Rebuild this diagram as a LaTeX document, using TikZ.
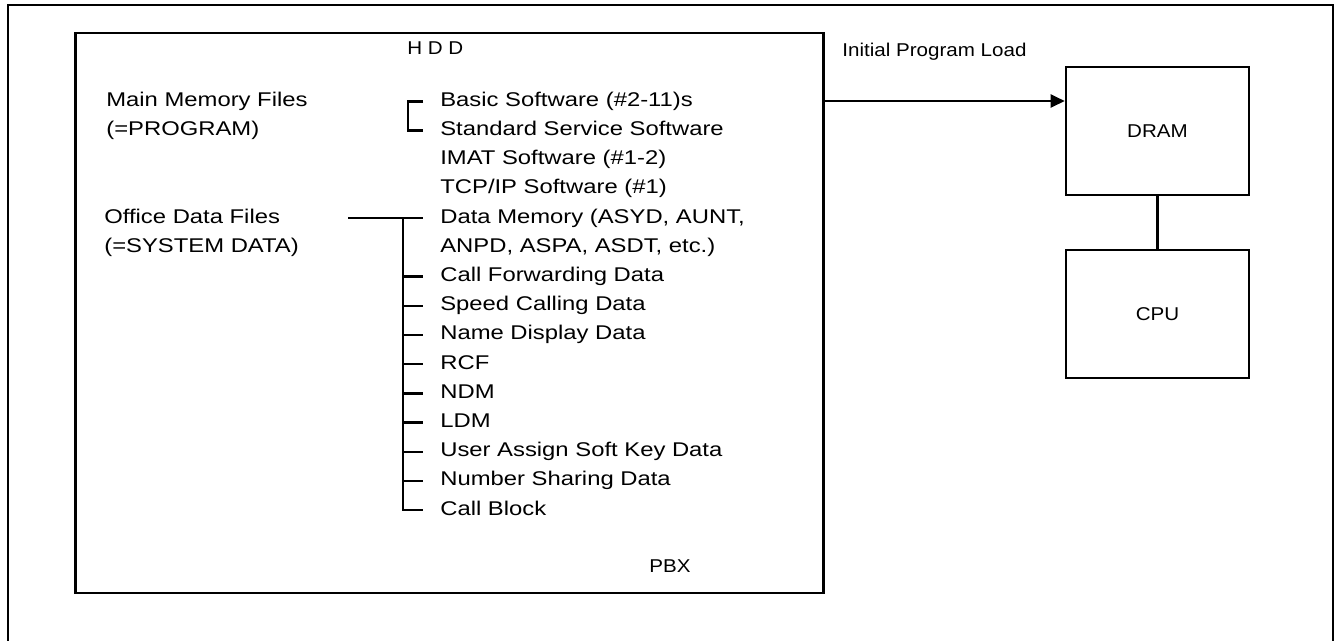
\documentclass[tikz,border=0pt]{standalone}
\usepackage{fontspec}
\setmainfont{Liberation Sans}
\newfontfamily\listfont[FakeStretch=1.2]{Liberation Sans}
\newfontfamily\labfont[FakeStretch=1.11]{Liberation Sans}
\usetikzlibrary{arrows.meta}

\tikzset{
  txt/.style={anchor=west, inner sep=0pt, text height=7.9pt, text depth=2.3pt,
    font=\listfont\fontsize{11.3}{13}\selectfont},
  lab/.style={txt, font=\labfont\fontsize{10.55}{12}\selectfont},
  item/.style={txt, inner xsep=0.34cm},
  hw/.style={draw, line width=1.5pt, minimum width=3.66cm, minimum height=2.56cm,
    font=\labfont\fontsize{10.55}{12}\selectfont},
  wire/.style={line width=1.3pt},
}

\begin{document}
\begin{tikzpicture}[x=0.02cm, y=-0.02cm]
\useasboundingbox (0,0) rectangle (1336,640);

% frame, open at the bottom
\draw[line width=1.5pt] (8,650) -- (8,5) -- (1333,5) -- (1333,650);

% PBX box with the HDD contents
\node[draw, line width=1.3pt, minimum width=14.96cm, minimum height=11.2cm, inner sep=0pt] (pbx) at (449.5,313) {};
\node[lab] (hdd) at (407,50) {H D D};
\node[lab] (pbxname) at (649,568) {PBX};

\node[txt] (mainmem) at (106,101.4) {Main Memory Files};
\node[txt] (program) at (106,130.6) {(=PROGRAM)};
\node[txt] (office) at (104,218.2) {Office Data Files};
\node[txt] (sysdata) at (104,247.4) {(=SYSTEM DATA)};

\foreach \txt [count=\k from 0] in {Basic Software (\#2-11)s, Standard Service Software,
    IMAT Software (\#1-2), TCP/IP Software (\#1), {Data Memory (ASYD, AUNT,},
    {ANPD, ASPA, ASDT, etc.)}, Call Forwarding Data, Speed Calling Data,
    Name Display Data, RCF, NDM, LDM, User Assign Soft Key Data,
    Number Sharing Data, Call Block}
  \node[item] (i\k) at (423,{101.4+29.2*\k}) {\txt};

% bracket and tree
\draw[wire] (i0.west) -- ++(-15,0) |- (i1.west);
\coordinate (odf) at (348,0);
\coordinate (trunk) at (403,0);
\draw[wire] (odf |- i4.west) -- (i4.west);
\draw[wire] (trunk |- i4.west) |- (i14.west);
\foreach \k in {6,...,13}
  \draw[wire] (trunk |- i\k.west) -- (i\k.west);

% memory side
\node[lab] (ipl) at (842,52) {Initial Program Load};
\node[hw] (dram) at (1157.5,131) {DRAM};
\node[hw] (cpu) at (1157.5,314) {CPU};
\draw[wire] (dram) -- (cpu);
\coordinate (load) at (0,101);
\draw[wire, -{Triangle[length=0.28cm, width=0.26cm]}] (pbx.east |- load) -- (dram.west |- load);
\end{tikzpicture}
\end{document}
